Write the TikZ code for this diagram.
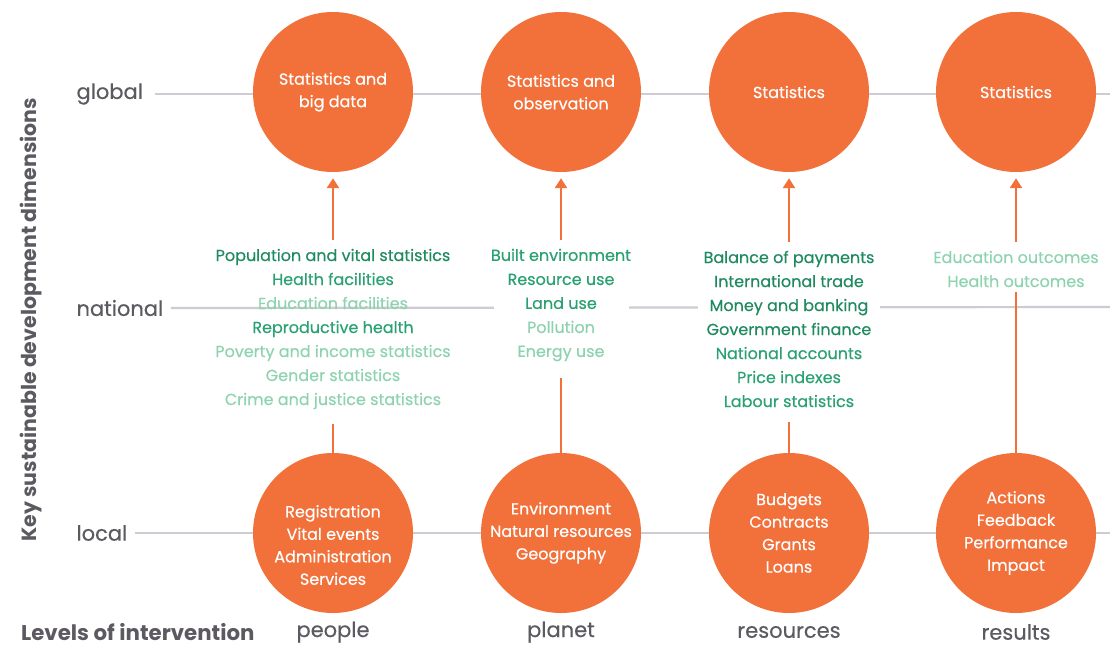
\documentclass[tikz,border=0pt]{standalone}
\usepackage{fontspec}
\setmainfont{Poppins}
\newfontfamily\medfont{Poppins}[FakeBold=0.4]
\usetikzlibrary{arrows.meta}
\definecolor{org}{HTML}{F2703A}
\definecolor{dg}{HTML}{1F8A60}
\definecolor{mg}{HTML}{2AA172}
\definecolor{lg}{HTML}{8ED3B0}
\definecolor{gt}{HTML}{5C5A60}
\definecolor{gl}{HTML}{CFCBD2}
\begin{document}
\begin{tikzpicture}[x=1pt,y=-1pt,
  circ/.style={circle,fill=org,minimum size=160pt,inner sep=0pt,text=white,align=center,font=\medfont\fontsize{16}{22.5}\selectfont},
  ctext/.style={text=white,align=center,font=\medfont\fontsize{16}{22.5}\selectfont},
  lvl/.style={text=gt,anchor=west,font=\medfont\fontsize{21}{24}\selectfont},
  col/.style={text=gt,inner sep=1pt,font=\medfont\fontsize{21}{24}\selectfont},
  midtext/.style={align=center,font=\medfont\fontsize{16}{24}\selectfont,inner sep=3pt},
  gridline/.style={draw=gl,line width=2.2pt},
  conn/.style={draw=org,line width=2.5pt},
  arr/.style={conn,-{Triangle[length=10pt,width=12pt]}}
]
\useasboundingbox (0,0) rectangle (1110,646);
% axis labels
\node[lvl] (lg) at (73,94) {global};
\node[lvl] (ln) at (73,308) {national};
\node[lvl] (ll) at (73,533) {local};
\node[text=gt,rotate=90,font=\bfseries\fontsize{20.5}{24}\selectfont] (ytitle) at (31,320) {Key sustainable development dimensions};
\node[text=gt,anchor=west,inner sep=1pt,font=\bfseries\fontsize{21.3}{24}\selectfont] (xtitle) at (20,632) {Levels of intervention};
% grid lines
\coordinate (ge) at (1110,94);
\coordinate (ne) at (1110,307);
\coordinate (le) at (1110,533);
\draw[gridline] ([xshift=9pt]lg.east) -- (ge);
\draw[gridline] ([xshift=4pt]ln.east) -- (ne);
\draw[gridline] ([xshift=4pt]ll.east) -- (le);
% top circles
\node[circ] (t1) at (333,92) {Statistics and\\big data};
\node[circ] (t2) at (561,92) {Statistics and\\observation};
\node[circ] (t3) at (789,92) {Statistics};
\node[circ] (t4) at (1016,92) {Statistics};
% bottom circles
\node[circ] (b1) at (333,533) {};
\node[ctext] (b1t) at (333,545) {Registration\\Vital events\\Administration\\Services};
\node[circ] (b2) at (561,533) {Environment\\Natural resources\\Geography};
\node[circ] (b3) at (789,533) {Budgets\\Contracts\\Grants\\Loans};
\node[circ] (b4) at (1016,533) {Actions\\Feedback\\Performance\\Impact};
% column labels
\node[col] (c1) at (333,632) {people};
\node[col] (c2) at (561,632) {planet};
\node[col] (c3) at (789,632) {resources};
\node[col] (c4) at (1016,632) {results};
% middle texts
\node[midtext] (m1) at (333,329) {{\color{dg}Population and vital statistics}\\
{\color{mg}Health facilities}\\
{\color{lg}Education facilities}\\
{\color{mg}Reproductive health}\\
{\color{lg}Poverty and income statistics}\\
{\color{lg}Gender statistics}\\
{\color{lg}Crime and justice statistics}};
\node[midtext,fill=white,inner xsep=-2.5pt] (m2) at (561,305) {{\color{mg}Built environment}\\
{\color{mg}Resource use}\\
{\color{mg}Land use}\\
{\color{lg}Pollution}\\
{\color{lg}Energy use}};
\node[midtext,fill=white,inner xsep=6pt] (m3) at (789,329) {{\color{dg}Balance of payments}\\
{\color{dg}International trade}\\
{\color{dg}Money and banking}\\
{\color{dg}Government finance}\\
{\color{mg}National accounts}\\
{\color{mg}Price indexes}\\
{\color{mg}Labour statistics}};
\node[midtext] (m4) at (1016,269) {{\color{lg}Education outcomes}\\
{\color{lg}Health outcomes}};
% connectors
\foreach \i in {1,2,3,4}{
  \draw[arr,shorten <=6pt,shorten >=6pt] (m\i.north) -- (t\i.south);
}
\draw[conn,shorten >=12pt] (b1.north) -- (m1.south);
\draw[conn,shorten >=14pt] (b2.north) -- (m2.south);
\draw[conn,shorten >=12pt] (b3.north) -- (m3.south);
\draw[conn,shorten >=2pt] (b4.north) -- (m4.south);
\end{tikzpicture}
\end{document}
